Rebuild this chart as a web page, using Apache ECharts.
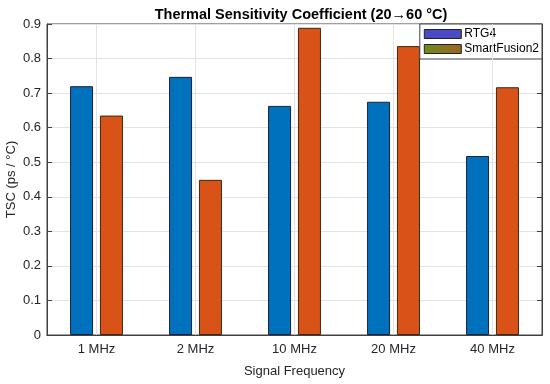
<!DOCTYPE html>
<html>
<head>
<meta charset="utf-8">
<script src="https://cdn.jsdelivr.net/npm/echarts@6/dist/echarts.min.js"></script>
<style>html,body{margin:0;padding:0;background:#fff}#c{width:550px;height:384px}</style>
</head>
<body>
<div id="c"></div>
<script>
const categories = ['1 MHz', '2 MHz', '10 MHz', '20 MHz', '40 MHz'];
const rtg4 = [0.720, 0.747, 0.663, 0.675, 0.518];
const smartFusion2 = [0.635, 0.449, 0.889, 0.836, 0.717];
const seriesNames = ['RTG4', 'SmartFusion2'];

const FONT = 'Liberation Sans, Arial, Helvetica, sans-serif';
const AX = '#404040';
const TXT = '#262626';
const GRIDC = '#e3e3e3';

const chart = echarts.init(document.getElementById('c'));
chart.setOption({
  animation: false,
  backgroundColor: '#fff',
  title: {
    text: 'Thermal Sensitivity Coefficient (20\u219260 \u00b0C)',
    left: 296, textAlign: 'center', top: 2,
    textStyle: { fontFamily: FONT, fontSize: 14.5, fontWeight: 'bold', color: '#000' }
  },
  legend: {
    orient: 'vertical', right: 8, top: 24,
    backgroundColor: '#fff', borderColor: AX, borderWidth: 1,
    padding: [4, 3, 4, 4], itemGap: 3, itemWidth: 37, itemHeight: 9,
    icon: 'rect',
    textStyle: { fontFamily: FONT, fontSize: 12, color: '#000', padding: [0, 0, 0, -2] },
    data: [
      { name: seriesNames[0], itemStyle: { color: '#4a4ac4', borderColor: '#222', borderWidth: 1 } },
      { name: seriesNames[1], itemStyle: { color: new echarts.graphic.LinearGradient(0, 0, 1, 0, [{offset: 0, color: '#6e8a24'}, {offset: 1, color: '#9c641f'}]), borderColor: '#222', borderWidth: 1 } }
    ]
  },
  grid: { left: 47, right: 8, top: 24, bottom: 49, outerBoundsMode: 'none', containLabel: false, show: true, borderColor: AX, borderWidth: 1, backgroundColor: 'transparent' },
  xAxis: [{
    type: 'category', data: categories, boundaryGap: true,
    name: 'Signal Frequency', nameLocation: 'middle', nameGap: 30, nameMoveOverlap: false,
    nameTextStyle: { fontFamily: FONT, fontSize: 13, color: TXT },
    axisLine: { lineStyle: { color: AX } },
    axisTick: { inside: true, alignWithLabel: true, length: 5, lineStyle: { color: AX } },
    axisLabel: { fontFamily: FONT, fontSize: 13, color: TXT, margin: 8 },
    splitLine: { show: false }
  }, {
    type: 'category', data: categories, position: 'top', boundaryGap: true,
    axisLine: { lineStyle: { color: AX } },
    axisTick: { inside: true, alignWithLabel: true, length: 5, lineStyle: { color: AX } },
    axisLabel: { show: false }, splitLine: { show: false }
  }],
  yAxis: [{
    type: 'value', min: 0, max: 0.9, interval: 0.1,
    name: 'TSC (ps / \u00b0C)', nameLocation: 'middle', nameGap: 29, nameMoveOverlap: false,
    nameTextStyle: { fontFamily: FONT, fontSize: 13, color: TXT },
    axisLine: { show: true, lineStyle: { color: AX } },
    axisTick: { show: true, inside: true, length: 5, lineStyle: { color: AX } },
    axisLabel: { fontFamily: FONT, fontSize: 13, color: TXT, margin: 6 },
    splitLine: { show: true, lineStyle: { color: GRIDC, width: 1 } }
  }, {
    type: 'value', min: 0, max: 0.9, interval: 0.1, position: 'right',
    axisLine: { show: true, lineStyle: { color: AX } },
    axisTick: { show: true, inside: true, length: 5, lineStyle: { color: AX } },
    axisLabel: { show: false }, splitLine: { show: false }
  }],
  series: [
    {
      name: '_vgrid', type: 'line', data: [], z: 1, silent: true,
      markLine: {
        silent: true, symbol: 'none', label: { show: false },
        lineStyle: { color: GRIDC, type: 'solid', width: 1 },
        data: categories.map(c => ({ xAxis: c }))
      }
    },
    {
      name: seriesNames[0], type: 'bar', data: rtg4, barWidth: 23, barGap: '30%', z: 3,
      itemStyle: { color: '#0072BD', borderColor: '#1f1f3a', borderWidth: 1 }
    },
    {
      name: seriesNames[1], type: 'bar', data: smartFusion2, barWidth: 23, z: 3,
      itemStyle: { color: '#D95319', borderColor: '#3a2a10', borderWidth: 1 }
    }
  ]
});
</script>
</body>
</html>
